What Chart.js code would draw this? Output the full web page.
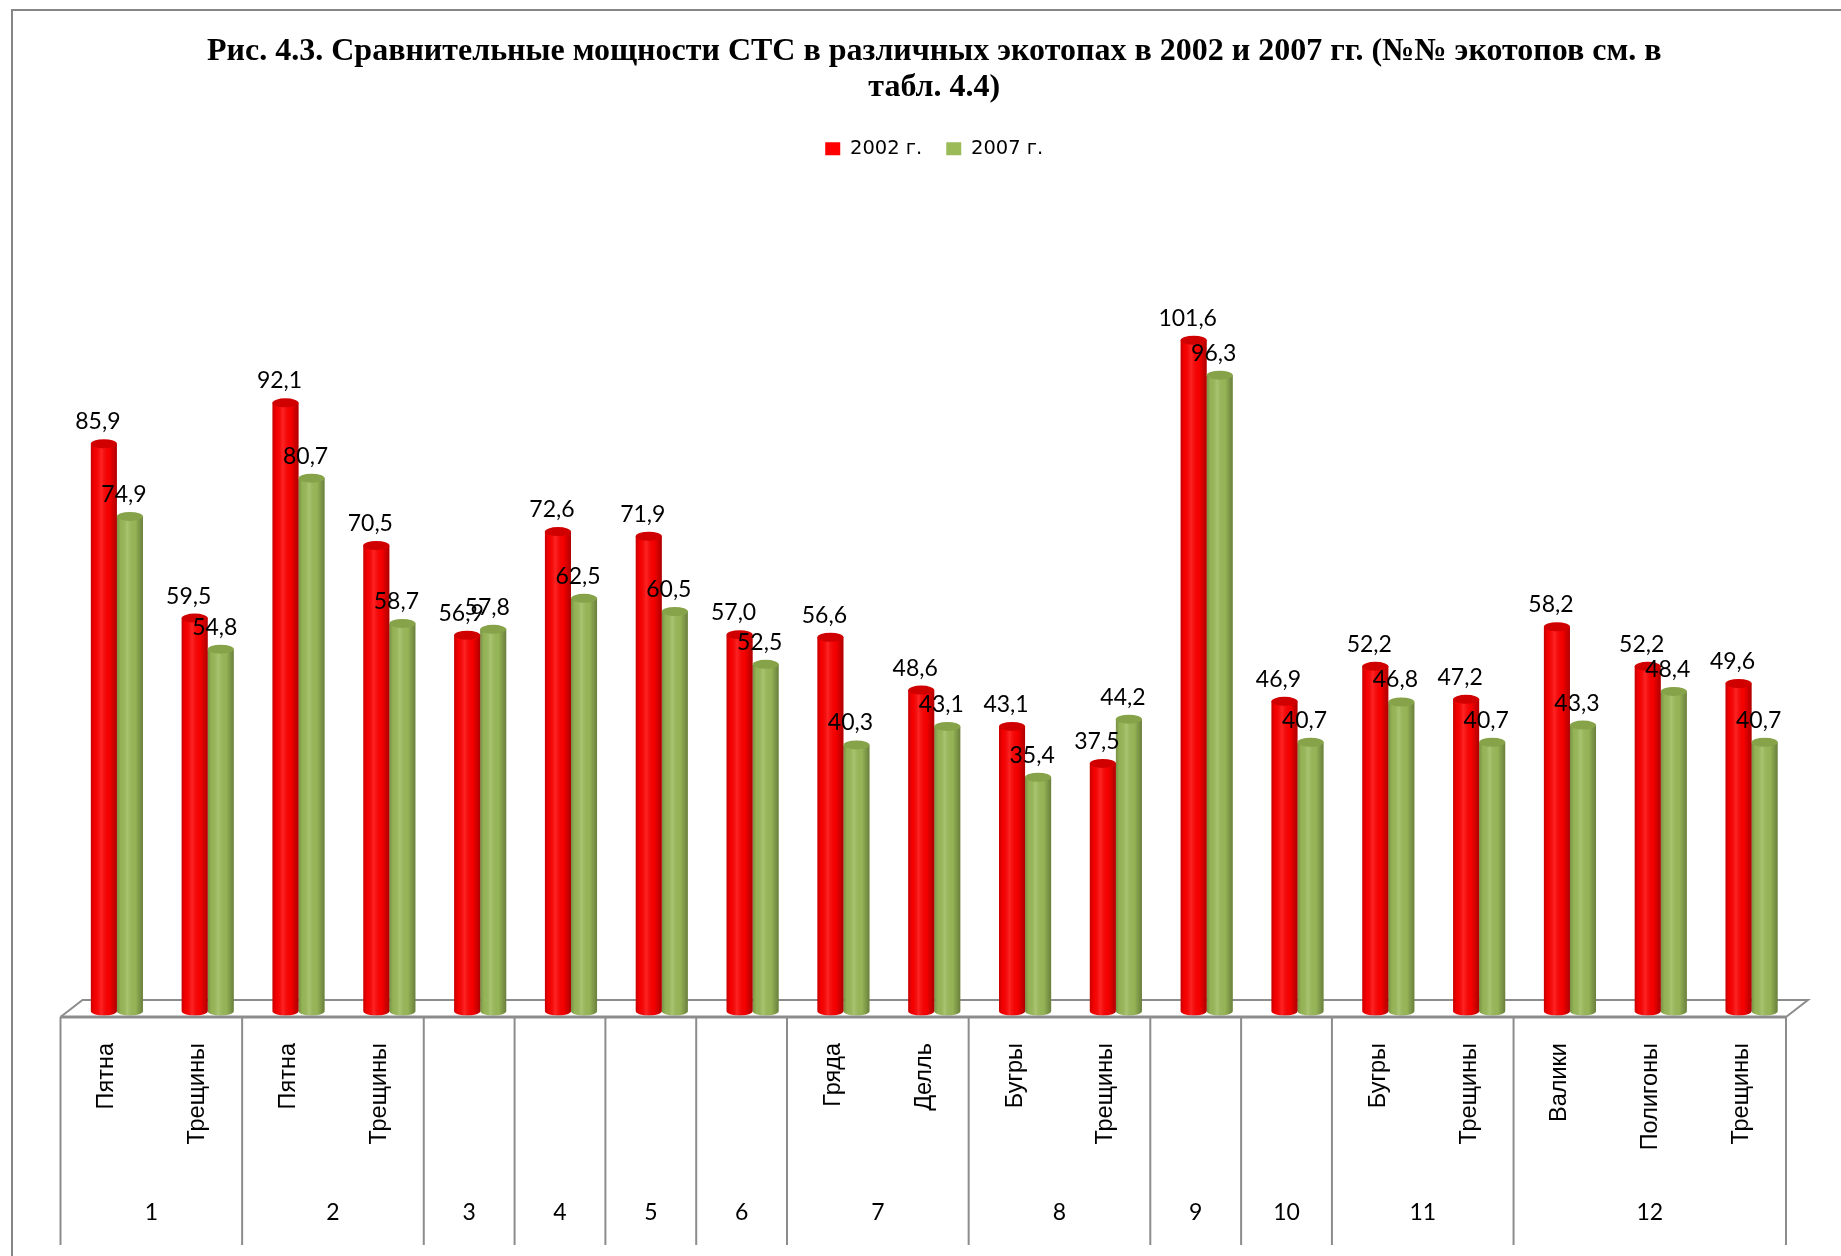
<!DOCTYPE html>
<html>
<head>
<meta charset="utf-8">
<script src="https://cdn.jsdelivr.net/npm/chart.js@4.4.0/dist/chart.umd.min.js"></script>
<style>
  body { margin: 0; background: #fff; }
  canvas { display: block; }
</style>
</head>
<body>
<canvas id="mycanvas" width="1841" height="1256"></canvas>
<script>
var titleLines = ['Рис. 4.3. Сравнительные мощности СТС в различных экотопах в 2002 и 2007 гг. (№№ экотопов см. в', 'табл. 4.4)'];
var seriesNames = ['2002 г.', '2007 г.'];
var groups = ['1', '1', '2', '2', '3', '4', '5', '6', '7', '7', '8', '8', '9', '10', '11', '11', '12', '12', '12'];
var subLabels = ['Пятна', 'Трещины', 'Пятна', 'Трещины', '', '', '', '', 'Гряда', 'Делль', 'Бугры', 'Трещины', '', '', 'Бугры', 'Трещины', 'Валики', 'Полигоны', 'Трещины'];
var data2002 = [85.9, 59.5, 92.1, 70.5, 56.9, 72.6, 71.9, 57.0, 56.6, 48.6, 43.1, 37.5, 101.6, 46.9, 52.2, 47.2, 58.2, 52.2, 49.6];
var data2007 = [74.9, 54.8, 80.7, 58.7, 57.8, 62.5, 60.5, 52.5, 40.3, 43.1, 35.4, 44.2, 96.3, 40.7, 46.8, 40.7, 43.3, 48.4, 40.7];

var barColors = ['#FF0000', '#9BBB59'];
var capColors = ['#D00000', '#86A34A'];
var lineGray = '#8c8c8c';
// half of the 3D floor depth
var DEPTH = 11;

function fmt(v) {
	return v.toFixed(1).replace('.', ',');
}

var borderPlugin = {
	id: 'border',
	beforeDraw: function(chart) {
		var ctx = chart.ctx;
		ctx.save();
		ctx.strokeStyle = '#868686';
		ctx.lineWidth = 2;
		ctx.beginPath();
		ctx.moveTo(12, chart.height);
		ctx.lineTo(12, 10);
		ctx.lineTo(chart.width, 10);
		ctx.stroke();
		ctx.restore();
	}
};

var floorPlugin = {
	id: 'floor',
	beforeDatasetsDraw: function(chart) {
		var a = chart.chartArea, ctx = chart.ctx;
		var fy = a.bottom + 6, by = a.bottom - 11;
		ctx.save();
		ctx.strokeStyle = lineGray;
		ctx.lineWidth = 2;
		ctx.beginPath();
		ctx.moveTo(a.left - DEPTH, fy);
		ctx.lineTo(a.left + DEPTH, by);
		ctx.lineTo(a.right + DEPTH, by);
		ctx.lineTo(a.right - DEPTH, fy);
		ctx.stroke();
		ctx.restore();
	}
};

var barPlugin = {
	id: 'cylinders',
	afterDatasetsDraw: function(chart) {
		var ctx = chart.ctx;
		ctx.save();
		chart.data.datasets.forEach(function(ds, di) {
			var meta = chart.getDatasetMeta(di);
			meta.data.forEach(function(bar) {
				var l = bar.x - bar.width / 2, r = bar.x + bar.width / 2;
				var rx = bar.width / 2, ry = 4.5;
				ctx.fillStyle = barColors[di];
				ctx.beginPath();
				ctx.ellipse(bar.x, bar.base, rx, ry, 0, 0, Math.PI);
				ctx.fill();
				var g = ctx.createLinearGradient(l, 0, r, 0);
				g.addColorStop(0, 'rgba(0,0,0,0.22)');
				g.addColorStop(0.15, 'rgba(0,0,0,0.04)');
				g.addColorStop(0.4, 'rgba(255,255,255,0.14)');
				g.addColorStop(0.7, 'rgba(0,0,0,0.03)');
				g.addColorStop(1, 'rgba(0,0,0,0.32)');
				ctx.fillStyle = g;
				ctx.beginPath();
				ctx.moveTo(l, bar.y);
				ctx.lineTo(r, bar.y);
				ctx.lineTo(r, bar.base);
				ctx.ellipse(bar.x, bar.base, rx, ry, 0, 0, Math.PI);
				ctx.closePath();
				ctx.fill();
				ctx.fillStyle = capColors[di];
				ctx.beginPath();
				ctx.ellipse(bar.x, bar.y, rx, ry, 0, 0, 2 * Math.PI);
				ctx.fill();
			});
		});
		// value labels
		ctx.fillStyle = '#000';
		ctx.font = '23px Lato';
		ctx.textAlign = 'center';
		ctx.textBaseline = 'middle';
		chart.data.datasets.forEach(function(ds, di) {
			var meta = chart.getDatasetMeta(di);
			meta.data.forEach(function(bar, i) {
				ctx.fillText(fmt(ds.data[i]), bar.x - 6, bar.y - 22);
			});
		});
		ctx.restore();
	}
};

var tablePlugin = {
	id: 'table',
	afterDraw: function(chart) {
		var ctx = chart.ctx, xs = chart.scales.x, a = chart.chartArea;
		var n = subLabels.length;
		var w = (xs.right - xs.left) / n;
		var top = a.bottom + 6, bottom = top + 228;
		function cx(i) { return xs.getPixelForValue(i) - DEPTH; }
		ctx.save();
		ctx.strokeStyle = lineGray;
		ctx.lineWidth = 3;
		ctx.beginPath();
		ctx.moveTo(cx(0) - w / 2, top);
		ctx.lineTo(cx(n - 1) + w / 2, top);
		ctx.stroke();
		ctx.lineWidth = 2;
		ctx.fillStyle = '#000';
		ctx.textAlign = 'center';
		ctx.textBaseline = 'middle';
		ctx.font = '23px Lato';
		var start = 0;
		for (var i = 1; i <= n; i++) {
			if (i == n || groups[i] != groups[start]) {
				var l = cx(start) - w / 2, r = cx(i - 1) + w / 2;
				ctx.beginPath();
				ctx.moveTo(l, top);
				ctx.lineTo(l, bottom);
				if (i == n) {
					ctx.moveTo(r, top);
					ctx.lineTo(r, bottom);
				}
				ctx.stroke();
				ctx.fillText(groups[start], (l + r) / 2, top + 196);
				start = i;
			}
		}
		ctx.font = '23.5px "Liberation Sans"';
		ctx.textAlign = 'right';
		for (var j = 0; j < n; j++) {
			if (!subLabels[j]) continue;
			ctx.save();
			ctx.translate(cx(j) + 1, top + 26);
			ctx.rotate(-Math.PI / 2);
			ctx.fillText(subLabels[j], 0, 0);
			ctx.restore();
		}
		ctx.restore();
	}
};

var ctx = document.getElementById('mycanvas');

var barGraph = new Chart(ctx, {
	type: 'bar',
	data: {
		labels: subLabels,
		datasets: [
			{
				label: seriesNames[0],
				data: data2002,
				backgroundColor: barColors[0],
				borderWidth: 0
			},
			{
				label: seriesNames[1],
				data: data2007,
				backgroundColor: barColors[1],
				borderWidth: 0
			}
		]
	},
	options: {
		responsive: false,
		animation: false,
		layout: { padding: { left: 71.5, right: 44, top: 0, bottom: 245 } },
		datasets: { bar: { categoryPercentage: 0.574, barPercentage: 1 } },
		scales: {
			x: { display: false },
			y: { display: false, min: 0, max: 127.6 }
		},
		plugins: {
			title: {
				display: true,
				text: titleLines,
				color: '#000',
				font: { family: 'Liberation Serif', size: 32, weight: 'bold', lineHeight: 1.14 },
				padding: { top: 33, bottom: 9 }
			},
			legend: {
				labels: {
					color: '#000',
					font: { family: 'DejaVu Sans', size: 19.5 },
					boxWidth: 15,
					boxHeight: 13,
					padding: 24
				}
			},
			tooltip: { enabled: false }
		}
	},
	plugins: [borderPlugin, floorPlugin, barPlugin, tablePlugin]
});
</script>
</body>
</html>
